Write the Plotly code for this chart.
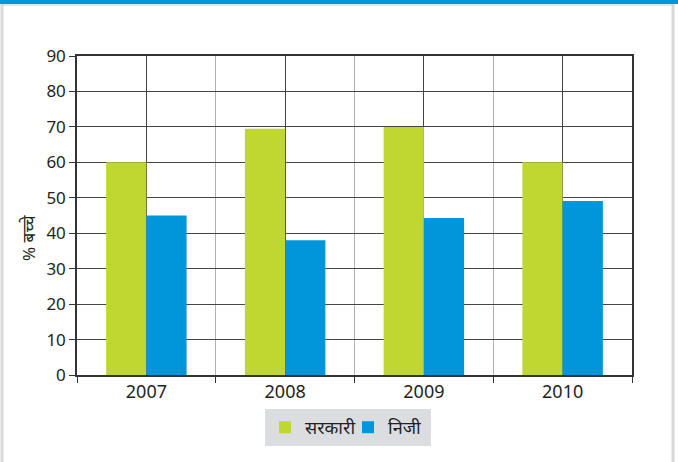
import plotly.graph_objects as go

years = ["2007", "2008", "2009", "2010"]
sarkari = [60, 69.5, 70, 60]
niji = [45, 38, 44.3, 49.1]
series_names = ["सरकारी", "निजी"]
y_ticks = [0, 10, 20, 30, 40, 50, 60, 70, 80, 90]
y_title = "% बच्चे"

W, H = 678, 462
L, R, T, B = 77, 46, 56, 87
pw, ph = W - L - R, H - T - B

def px_x(p):
    return (p - L) / pw

def px_y(p):
    return (H - B - p) / ph

xs = list(range(len(years)))

fig = go.Figure()
fig.add_bar(x=xs, y=sarkari, name=series_names[0], marker=dict(color="#bfd730", line_width=0))
fig.add_bar(x=xs, y=niji, name=series_names[1], marker=dict(color="#0096d9", line_width=0))

fig.update_layout(
    width=W, height=H,
    margin=dict(l=L, r=R, t=T, b=B),
    paper_bgcolor="white", plot_bgcolor="white",
    barmode="group", bargap=0.42, bargroupgap=0,
    font=dict(family="Noto Sans, Open Sans, sans-serif", color="#231f20", size=16),
    legend=dict(
        orientation="h", x=px_x(265), y=px_y(409), xanchor="left", yanchor="top",
        bgcolor="#dcdde0", font=dict(size=18), itemwidth=30,
        entrywidth=38, tracegroupgap=0,
    ),
    showlegend=True,
)

fig.update_xaxes(
    range=[-0.5, 3.5], tickvals=xs, ticktext=years, ticks="",
    showgrid=True, gridcolor="#444444", gridwidth=1,
    showline=True, linecolor="#333333", linewidth=1.5, mirror=True,
    minor=dict(tick0=-0.5, dtick=1, ticks="outside", ticklen=6, tickcolor="#333333",
               showgrid=True, gridcolor="#b0b0b0", gridwidth=1),
    tickfont=dict(size=18), fixedrange=True, zeroline=False,
)
fig.update_yaxes(
    range=[0, 90], tickvals=y_ticks, ticks="outside", ticklen=6, tickcolor="#333333",
    showgrid=True, gridcolor="#444444", gridwidth=1,
    showline=True, linecolor="#333333", linewidth=1.5, mirror=True,
    tickfont=dict(size=17), zeroline=False, fixedrange=True,
)

fig.add_annotation(text=y_title, textangle=-90, xref="paper", yref="paper",
                   x=px_x(28), y=px_y(238), xanchor="center", yanchor="middle",
                   showarrow=False, font=dict(size=17))

# frame: blue band on top, light gray borders
fig.add_shape(type="rect", xref="paper", yref="paper",
              x0=px_x(0), x1=px_x(W), y0=px_y(4), y1=px_y(0),
              fillcolor="#0096d9", line_width=0, layer="above")
fig.add_shape(type="line", xref="paper", yref="paper",
              x0=px_x(2), x1=px_x(2), y0=px_y(H), y1=px_y(4),
              line=dict(color="#d9d9d9", width=3))
fig.add_shape(type="line", xref="paper", yref="paper",
              x0=px_x(673), x1=px_x(673), y0=px_y(H), y1=px_y(4),
              line=dict(color="#d9d9d9", width=3))
fig.add_shape(type="line", xref="paper", yref="paper",
              x0=px_x(2), x1=px_x(673), y0=px_y(5), y1=px_y(5),
              line=dict(color="#cccccc", width=1))

fig.write_html("out.html", config={"displayModeBar": False},
               post_script="document.body.style.margin='0';document.body.style.padding='0';")
